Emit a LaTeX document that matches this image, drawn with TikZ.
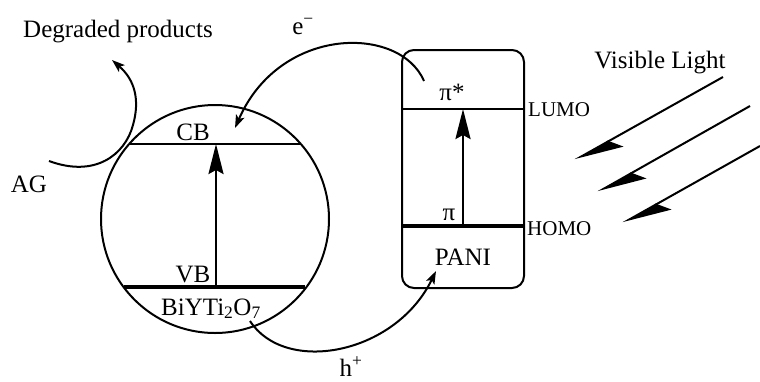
\documentclass[tikz,border=0pt]{standalone}
\usepackage{fontspec}
\setmainfont{Liberation Serif}
\usetikzlibrary{arrows.meta}
\begin{document}
\begin{tikzpicture}[x=1pt,y=-1pt,
  lbl/.style={font=\fontsize{25}{28}\selectfont, inner sep=0pt, anchor=base},
  sml/.style={font=\fontsize{21}{24}\selectfont, inner sep=0pt, anchor=base west},
  curvearrow/.style={line width=2pt, -{Stealth[length=13pt,width=9pt,inset=3pt]}},
  bigarrow/.style={line width=2.6pt, -{Stealth[length=30pt,width=15pt,inset=4pt]}},
  lightarrow/.style={line width=2pt, -{Stealth[harpoon,length=45pt,width=24pt,inset=10pt]}},
]
\useasboundingbox (0,0) rectangle (760,381);
% main shapes
\node[circle, draw, line width=2pt, minimum size=228pt, inner sep=0pt] (bi) at (215,219) {};
\node[draw, rounded corners=12pt, line width=2pt, minimum width=122pt, minimum height=238pt, inner sep=0pt] (pani) at (463,169) {};
% levels in circle
\coordinate (cbL) at (129,144); \coordinate (cbR) at (301,144);
\coordinate (vbL) at (124,287); \coordinate (vbR) at (305,287);
\coordinate (cbM) at (216,144); \coordinate (vbM) at (216,287);
\draw[line width=2.7pt] (cbL) -- (cbR);
\draw[line width=4pt] (vbL) -- (vbR);
\draw[bigarrow] (vbM) -- (cbM);
% levels in box
\coordinate (lumoL) at (402,109); \coordinate (lumoR) at (524,109);
\coordinate (homoL) at (402,226); \coordinate (homoR) at (524,226);
\coordinate (lumoM) at (463,109); \coordinate (homoM) at (463,226);
\draw[line width=2.7pt] (lumoL) -- (lumoR);
\draw[line width=3.6pt] (homoL) -- (homoR);
\draw[bigarrow] (homoM) -- (lumoM);
% labels
\node[lbl] (dp) at (118,37) {Degraded products};
\node[lbl] (vl) at (660,68) {Visible Light};
\node[lbl] (ag) at (29,192) {AG};
\node[lbl] (cb) at (193,140) {CB};
\node[lbl] (vb) at (193,282) {VB};
\node[lbl] (byt) at (211,315) {BiYTi\textsubscript{2}O\textsubscript{7}};
\node[lbl] (pn) at (463,265) {PANI};
\node[lbl] (pis) at (452,100) {π*};
\node[lbl] (pi) at (449,220) {π};
\node[sml] (lumo) at (528,116) {LUMO};
\node[sml] (homo) at (527,235) {HOMO};
\node[lbl] (el) at (303,34) {e\textsuperscript{−}};
\node[lbl] (ho) at (351,376) {h\textsuperscript{+}};
% curved arrows
\coordinate (agS) at (49,161); \coordinate (agM) at (133,125); \coordinate (agE) at (112,60);
\draw[curvearrow] (agS) .. controls (95,178) and (125,155) .. (agM) .. controls (140,100) and (135,80) .. (agE);
\coordinate (eS) at (424,81); \coordinate (eE) at (235,128);
\draw[curvearrow] (eS) .. controls (400,25) and (280,25) .. (eE);
\coordinate (hS) at (250,321); \coordinate (hE) at (436,271);
\draw[curvearrow] (hS) .. controls (285,375) and (395,355) .. (hE);
% light arrows
\coordinate (l1s) at (723,77); \coordinate (l1e) at (575,160);
\coordinate (l2s) at (750,106); \coordinate (l2e) at (598,192);
\coordinate (l3s) at (760,146); \coordinate (l3e) at (623,223);
\draw[lightarrow] (l1s) -- (l1e);
\draw[lightarrow] (l2s) -- (l2e);
\draw[lightarrow] (l3s) -- (l3e);
\end{tikzpicture}
\end{document}
